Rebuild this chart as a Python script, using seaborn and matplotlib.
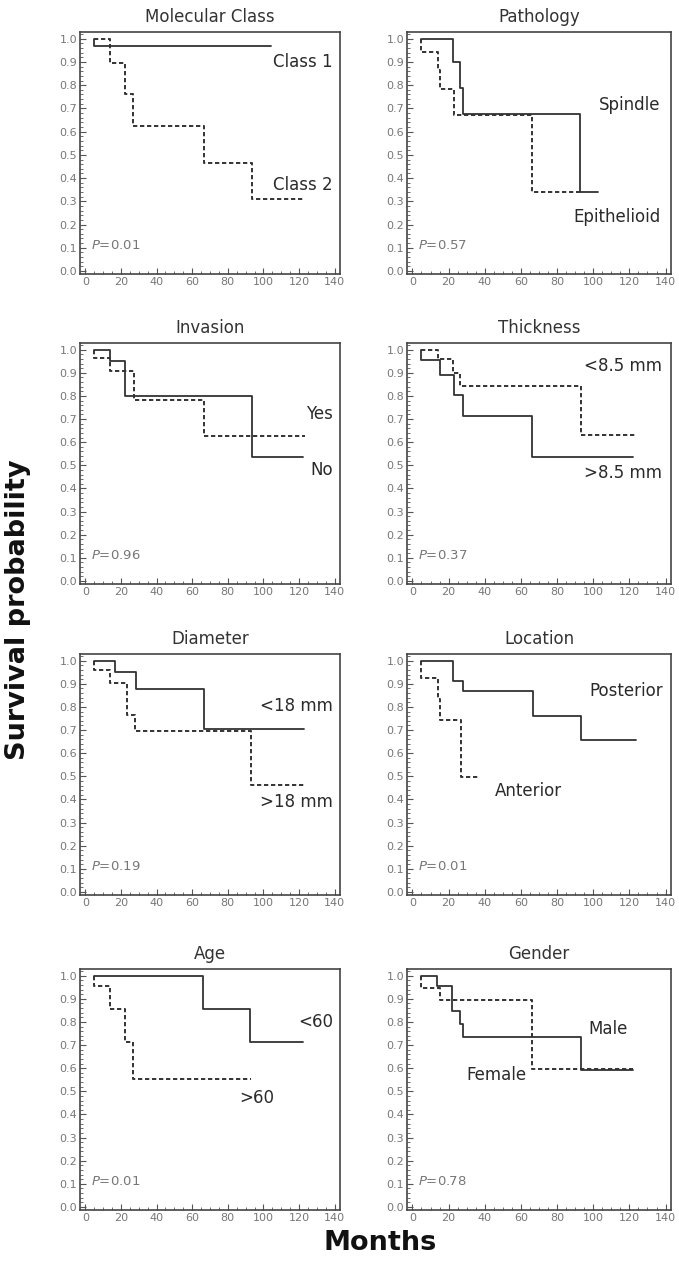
import pandas as pd
import matplotlib.pyplot as plt
import seaborn as sns
from matplotlib.ticker import MultipleLocator

sns.set_theme(style="white")
plt.rcParams['font.family'] = ['DejaVu Sans']

# Kaplan-Meier curves (months, survival probability)
mc_class1_t = [5, 5, 104]
mc_class1_s = [1.0, 0.97, 0.97]
mc_class2_t = [5, 14, 22.4, 27, 66.4, 93.5, 122.8]
mc_class2_s = [1.0, 0.895, 0.76, 0.625, 0.465, 0.31, 0.31]

pa_spindle_t = [5, 22.2, 26.3, 27.8, 92.7, 102.9]
pa_spindle_s = [1.0, 0.9, 0.79, 0.675, 0.338, 0.338]
pa_epith_t = [5, 5, 13.9, 15.2, 23.2, 66.4, 93]
pa_epith_s = [1.0, 0.943, 0.865, 0.785, 0.67, 0.338, 0.338]

in_no_t = [5, 14, 22.4, 93.5, 122.4]
in_no_s = [1.0, 0.95, 0.802, 0.537, 0.537]
in_yes_t = [5, 5, 14, 27.1, 66.4, 123.4]
in_yes_s = [1.0, 0.962, 0.91, 0.782, 0.625, 0.625]

th_gt_t = [5, 5, 15.4, 22.8, 27.8, 66.2, 121.8]
th_gt_s = [1.0, 0.955, 0.89, 0.803, 0.712, 0.536, 0.536]
th_lt_t = [5, 13.9, 22.2, 26.3, 93.2, 123.3]
th_lt_s = [1.0, 0.96, 0.9, 0.842, 0.633, 0.633]

di_lt_t = [5, 16.8, 28.6, 66.7, 122.8]
di_lt_s = [1.0, 0.95, 0.876, 0.703, 0.703]
di_gt_t = [5, 5, 14, 23.4, 27.7, 92.9, 122.8]
di_gt_s = [1.0, 0.96, 0.905, 0.766, 0.696, 0.463, 0.463]

lo_post_t = [5, 22.7, 27.7, 66.8, 93.4, 123.7]
lo_post_s = [1.0, 0.914, 0.871, 0.761, 0.656, 0.656]
lo_ant_t = [5, 5, 14.3, 15.2, 27.0, 36.3]
lo_ant_s = [1.0, 0.924, 0.833, 0.742, 0.497, 0.497]

ag_lt_t = [5, 66.3, 92.7, 122.5]
ag_lt_s = [1.0, 0.856, 0.713, 0.713]
ag_gt_t = [5, 5, 13.9, 22.5, 26.5, 93.1]
ag_gt_s = [1.0, 0.956, 0.856, 0.712, 0.555, 0.555]

ge_male_t = [5, 13.8, 22.1, 26.1, 28, 93.0, 122.1]
ge_male_s = [1.0, 0.954, 0.847, 0.79, 0.735, 0.593, 0.593]
ge_fem_t = [5, 5, 15.1, 66.3, 122.1]
ge_fem_s = [1.0, 0.949, 0.894, 0.596, 0.596]

titles = ['Molecular Class', 'Pathology', 'Invasion', 'Thickness',
          'Diameter', 'Location', 'Age', 'Gender']
p_values = ['0.01', '0.57', '0.96', '0.37', '0.19', '0.01', '0.01', '0.78']

# (solid curve, dashed curve)
curves = [
    ((mc_class1_t, mc_class1_s), (mc_class2_t, mc_class2_s)),
    ((pa_spindle_t, pa_spindle_s), (pa_epith_t, pa_epith_s)),
    ((in_no_t, in_no_s), (in_yes_t, in_yes_s)),
    ((th_gt_t, th_gt_s), (th_lt_t, th_lt_s)),
    ((di_lt_t, di_lt_s), (di_gt_t, di_gt_s)),
    ((lo_post_t, lo_post_s), (lo_ant_t, lo_ant_s)),
    ((ag_lt_t, ag_lt_s), (ag_gt_t, ag_gt_s)),
    ((ge_male_t, ge_male_s), (ge_fem_t, ge_fem_s)),
]

# curve labels: (text, x, y, ha)
labels = [
    [('Class 1', 139, 0.90, 'right'), ('Class 2', 139, 0.37, 'right')],
    [('Spindle', 137, 0.715, 'right'), ('Epithelioid', 137, 0.233, 'right')],
    [('Yes', 139, 0.72, 'right'), ('No', 139, 0.478, 'right')],
    [('<8.5 mm', 138, 0.931, 'right'), ('>8.5 mm', 138, 0.466, 'right')],
    [('<18 mm', 139, 0.805, 'right'), ('>18 mm', 139, 0.387, 'right')],
    [('Posterior', 138.5, 0.867, 'right'), ('Anterior', 64, 0.437, 'center')],
    [('<60', 139, 0.80, 'right'), ('>60', 96, 0.473, 'center')],
    [('Male', 108, 0.769, 'center'), ('Female', 46.5, 0.571, 'center')],
]

W, H = 679, 1265
fig = plt.figure(figsize=(W / 100, H / 100), dpi=100)

col_x = [(80, 340), (407, 671)]
row_y = [(32, 274), (343, 584), (654, 895), (969, 1210)]

line_col = '#333333'
for i in range(8):
    r, c = divmod(i, 2)
    x0, x1 = col_x[c]
    y0, y1 = row_y[r]
    ax = fig.add_axes([x0 / W, 1 - y1 / H, (x1 - x0) / W, (y1 - y0) / H])

    (st, ss), (dt, ds) = curves[i]
    df_solid = pd.DataFrame({'month': st, 'surv': ss})
    df_dash = pd.DataFrame({'month': dt, 'surv': ds})
    sns.lineplot(data=df_dash, x='month', y='surv', ax=ax, sort=False, estimator=None,
                 drawstyle='steps-post', color=line_col, lw=1.4, linestyle=(0, (2.2, 1.4)))
    sns.lineplot(data=df_solid, x='month', y='surv', ax=ax, sort=False, estimator=None,
                 drawstyle='steps-post', color=line_col, lw=1.3)

    for txt, lx, ly, ha in labels[i]:
        ax.text(lx, ly, txt, ha=ha, va='center', fontsize=12, color='#2a2a2a')
    ax.text(3, 0.11, '$P$=' + p_values[i], ha='left', va='center', fontsize=9.5,
            color='#777777')

    ax.set_xlim(-3, 143)
    ax.set_ylim(-0.013, 1.029)
    ax.xaxis.set_major_locator(MultipleLocator(20))
    ax.xaxis.set_minor_locator(MultipleLocator(5))
    ax.yaxis.set_major_locator(MultipleLocator(0.1))
    ax.yaxis.set_minor_locator(MultipleLocator(0.02))
    ax.set_yticks([k / 10 for k in range(11)])
    ax.set_yticklabels([f'{k / 10:.1f}' for k in range(11)])
    ax.tick_params(which='major', direction='in', length=4, width=0.8, colors='#555555',
                   labelcolor='#777777', labelsize=8, pad=2)
    ax.tick_params(which='minor', direction='in', length=2, width=0.6, colors='#555555')
    ax.tick_params(axis='both', which='both', left=True, bottom=True)
    ax.set_xlabel('')
    ax.set_ylabel('')
    ax.set_title(titles[i], fontsize=12, color='#333333', pad=7)
    for sp in ax.spines.values():
        sp.set_color('#444444')
        sp.set_linewidth(1.2)

fig.text(0.027, 0.518, 'Survival probability', rotation=90, ha='center', va='center',
         fontsize=19.5, fontweight='bold', color='#111111')
fig.text(0.56, 1 - 1243 / H, 'Months', ha='center', va='center',
         fontsize=19.5, fontweight='bold', color='#111111')

fig.savefig('out.png', dpi=100)
